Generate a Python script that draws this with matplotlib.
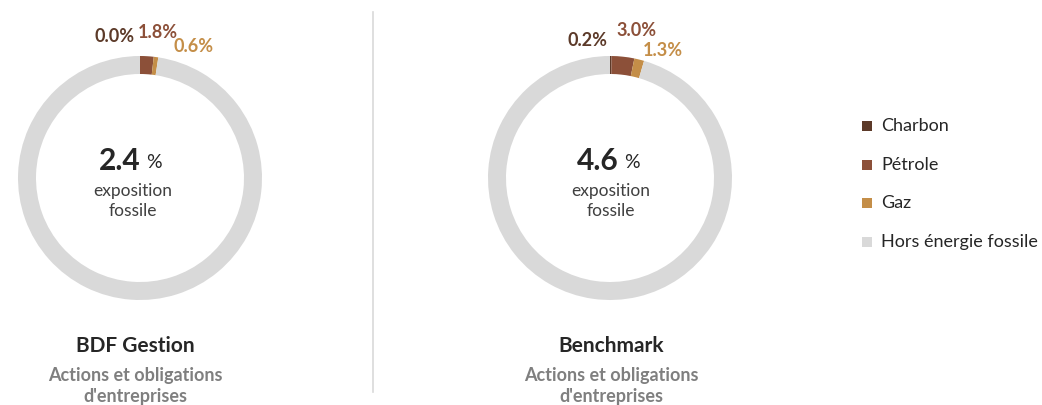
import numpy as np
import matplotlib.pyplot as plt

plt.rcParams['font.family'] = ['Lato', 'DejaVu Sans']

# donnees
categories = ["Charbon", "Pétrole", "Gaz", "Hors énergie fossile"]
couleurs = ["#5C3A29", "#8C5039", "#C48E48", "#D9D9D9"]
bdf = [0.0, 1.8, 0.6, 97.6]
bench = [0.2, 3.0, 1.3, 95.4]
totaux = ["2.4", "4.6"]
titres = ["BDF Gestion", "Benchmark"]
sous_titre = "Actions et obligations\nd'entreprises"

W, H = 1042, 405
fig = plt.figure(figsize=(W / 100, H / 100), dpi=100)
ax = fig.add_axes([0, 0, 1, 1])
ax.set_xlim(0, W)
ax.set_ylim(0, H)
ax.axis("off")

R = 122
centres = [(140, H - 178), (610, H - 178)]
# decalages du texte central et des titres (pixels)
dx_centre = [0, 8]
dx_titre = [-5, 1]

# decalages manuels des etiquettes (pixels, par rapport au centre)
offs = [[(-25, 141), (18, 145), (54, 132)],
        [(-22, 138), (27, 148), (53, 128)]]

for k, (vals, (cx, cy)) in enumerate(zip([bdf, bench], centres)):
    ax.pie(vals, colors=couleurs, startangle=90, counterclock=False,
           center=(cx, cy), radius=R, frame=True,
           wedgeprops=dict(width=18, linewidth=0))
    for i in range(3):
        dx, dy = offs[k][i]
        ax.text(cx + dx, cy + dy, f"{vals[i]:.1f}%", color=couleurs[i],
                fontsize=13, fontweight="bold", ha="center", va="center")
    tx = cx + dx_centre[k]
    ax.text(tx + 1, cy + 17, totaux[k], fontsize=21.5, fontweight="bold",
            color="#262626", ha="right", va="center")
    ax.text(tx + 6, cy + 16, "%", fontsize=14, color="#262626",
            ha="left", va="center")
    ax.text(tx - 7, cy - 23, "exposition\nfossile", fontsize=12.5,
            color="#404040", ha="center", va="center", linespacing=1.25)
    ax.text(cx + dx_titre[k], H - 346, titres[k], fontsize=15, fontweight="bold",
            color="#262626", ha="center", va="center")
    ax.text(cx + dx_titre[k], H - 386, sous_titre, fontsize=13, fontweight="bold",
            color="#7F7F7F", ha="center", va="center", linespacing=1.3)

ax.set_xlim(0, W)
ax.set_ylim(0, H)
ax.set_aspect("auto")

# separateur
ax.plot([373, 373], [H - 392, H - 12], color="#D9D9D9", lw=1.2)

# legende
for i, (c, lab) in enumerate(zip(couleurs, categories)):
    y = H - (126 + i * 38.7)
    ax.scatter([867], [y], marker="s", s=60, color=c, linewidths=0)
    ax.text(881, y, lab, fontsize=13, color="#262626", va="center", ha="left")

fig.savefig("out.png", dpi=100)
